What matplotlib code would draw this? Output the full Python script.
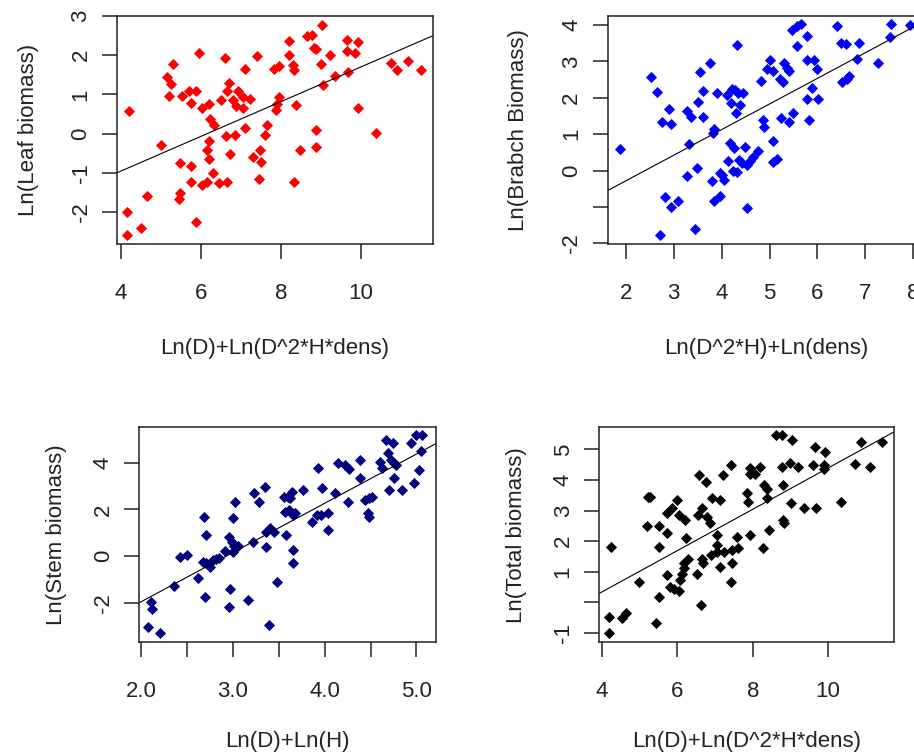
import matplotlib
matplotlib.use("Agg")
import matplotlib.pyplot as plt
import numpy as np

plt.rcParams["font.family"] = ["Liberation Sans", "DejaVu Sans"]
plt.rcParams["font.size"] = 16

# Leaf biomass vs Ln(D)+Ln(D^2*H*dens)
leaf_x = [9.03, 8.21, 8.65, 8.77, 8.83, 8.87, 9.65, 9.93, 9.65, 9.84, 9.22, 8.20,
          9.00, 8.30, 8.33, 7.83, 7.94, 7.40, 7.11, 6.60, 5.96, 5.31, 5.16, 5.25,
          5.21, 5.52, 5.69, 5.88, 5.75, 6.03, 6.19, 6.50, 6.70, 6.65, 6.92, 6.81,
          6.88, 7.05, 7.23, 7.06, 7.94, 7.90, 7.87, 8.37, 9.05, 9.35, 9.67, 10.76,
          10.89, 11.18, 11.49, 9.93, 10.38, 8.87, 8.87, 8.47, 8.32, 7.66, 7.61, 7.48,
          7.29, 7.50, 7.44, 7.11, 6.86, 6.63, 6.73, 6.23, 6.33, 6.19, 6.16, 6.19,
          6.30, 6.15, 6.02, 6.45, 6.65, 5.75, 5.75, 5.48, 4.99, 4.20, 4.64, 5.48,
          5.44, 4.14, 5.88, 4.50, 4.14]
leaf_y = [2.78, 2.37, 2.48, 2.51, 2.19, 2.15, 2.39, 2.33, 2.10, 2.05, 2.01, 2.01,
          1.78, 1.76, 1.61, 1.65, 1.72, 1.97, 1.64, 1.92, 2.06, 1.78, 1.44, 1.27,
          0.96, 0.97, 1.08, 1.08, 0.79, 0.66, 0.75, 0.85, 1.30, 1.08, 1.08, 0.85,
          0.69, 0.65, 0.89, 0.92, 0.92, 0.76, 0.59, 0.74, 1.24, 1.48, 1.57, 1.80,
          1.61, 1.84, 1.61, 0.66, 0.02, 0.08, -0.34, -0.42, -1.25, 0.21, -0.03, -0.41,
          -0.59, -0.72, -1.16, 0.13, -0.03, -0.06, -0.53, 0.36, 0.21, -0.19, -0.42, -0.66,
          -1.02, -1.23, -1.31, -1.27, -1.23, -1.23, -0.82, -0.75, -0.29, 0.57, -1.59, -1.53,
          -1.68, -2.00, -2.27, -2.42, -2.58]
leaf_fit = (-2.73, 0.443)

# Branch biomass vs Ln(D^2*H)+Ln(dens)
branch_x = [1.88, 2.53, 2.65, 2.75, 2.89, 2.95, 3.27, 3.36, 3.50, 3.54, 3.61, 3.62,
            3.75, 3.85, 3.90, 3.83, 3.31, 3.27, 3.48, 3.79, 4.00, 3.97, 4.05, 3.85,
            3.97, 2.82, 2.95, 3.08, 2.72, 3.45, 4.54, 4.32, 4.11, 4.21, 4.27, 4.35,
            4.45, 4.20, 4.39, 4.29, 4.13, 4.18, 4.25, 4.49, 4.23, 4.32, 4.36, 4.42,
            4.52, 4.59, 4.65, 4.75, 4.82, 4.87, 4.89, 5.00, 4.94, 5.08, 5.07, 5.08,
            5.16, 5.22, 5.28, 5.23, 5.30, 5.37, 5.41, 5.41, 5.50, 5.48, 5.58, 5.66,
            5.57, 5.79, 5.78, 5.92, 6.00, 5.88, 5.78, 5.83, 6.01, 6.42, 6.49, 6.60,
            6.87, 6.51, 6.61, 6.66, 6.82, 7.27, 7.51, 7.53, 7.93]
branch_y = [0.59, 2.56, 2.17, 1.34, 1.68, 1.28, 1.64, 1.48, 1.89, 2.72, 2.20, 1.48,
            2.96, 1.13, 2.12, 1.04, 0.72, -0.16, 0.08, -0.30, -0.12, -0.07, -0.26, -0.85,
            -0.70, -0.74, -0.99, -0.85, -1.77, -1.61, -1.04, 3.44, 2.08, 2.24, 2.21, 2.12,
            2.12, 1.85, 1.80, 1.57, 0.27, 0.77, 0.63, 0.64, -0.01, -0.03, 0.29, 0.22,
            0.16, 0.27, 0.37, 0.55, 2.46, 1.39, 1.21, 3.04, 2.78, 2.74, 0.80, 0.23,
            0.31, 2.53, 2.44, 1.45, 2.96, 2.81, 2.74, 1.34, 1.57, 3.86, 3.97, 4.03,
            3.43, 3.70, 3.04, 3.04, 2.79, 2.26, 1.97, 1.39, 1.97, 3.97, 3.52, 3.49,
            3.52, 2.44, 2.53, 2.60, 3.08, 2.97, 3.66, 4.03, 4.00]
branch_fit = (-1.69, 0.704)

# Stem biomass vs Ln(D)+Ln(H)
stem_x = [2.11, 2.12, 2.08, 2.21, 2.36, 2.42, 2.50, 2.62, 2.70, 2.67, 2.71, 2.75,
          2.78, 2.82, 2.85, 2.91, 2.69, 2.71, 2.96, 2.99, 3.01, 3.00, 3.06, 3.00,
          3.02, 2.97, 2.96, 3.16, 3.22, 3.23, 3.28, 3.35, 3.36, 3.36, 3.40, 3.45,
          3.48, 3.39, 3.58, 3.65, 3.66, 3.56, 3.60, 3.64, 3.62, 3.57, 3.61, 3.66,
          3.68, 3.76, 3.86, 3.93, 3.92, 3.97, 3.96, 4.04, 4.04, 4.11, 4.15, 4.22,
          4.26, 4.25, 4.38, 4.38, 4.44, 4.48, 4.52, 4.47, 4.48, 4.60, 4.62, 4.67,
          4.74, 4.69, 4.72, 4.76, 4.78, 4.76, 4.70, 4.84, 4.94, 4.97, 5.03, 4.99,
          5.06, 5.05]
stem_y = [-1.96, -2.29, -3.06, -3.31, -1.27, -0.03, 0.04, -0.96, -1.74, -0.24, -0.31, -0.46,
          -0.17, -0.14, -0.10, 0.21, 1.69, 0.90, 0.83, 0.61, 0.43, 0.19, 0.43, 1.61,
          2.33, -1.43, -2.17, -1.89, 0.61, 2.69, 2.33, 2.97, 1.04, 0.40, 1.19, 1.04,
          -1.10, -2.96, 0.90, 0.26, -0.31, 2.54, 2.54, 2.76, 2.47, 1.90, 1.97, 1.76,
          1.83, 2.83, 1.47, 3.76, 1.76, 2.90, 1.76, 1.83, 1.11, 2.69, 3.97, 3.90,
          3.71, 2.33, 4.11, 3.33, 2.40, 2.47, 2.54, 1.83, 1.69, 4.04, 3.76, 4.97,
          4.83, 4.40, 4.11, 3.97, 3.90, 3.33, 2.83, 2.83, 4.83, 3.11, 3.69, 5.19,
          5.19, 4.51]
stem_fit = (-6.18, 2.11)

# Total biomass vs Ln(D)+Ln(D^2*H*dens)
total_x = [4.23, 4.19, 4.19, 4.52, 4.64, 4.99, 5.43, 5.51, 5.23, 5.27, 5.19, 5.52,
           5.52, 5.73, 5.73, 5.85, 5.98, 6.03, 6.20, 6.23, 5.73, 5.81, 5.92, 6.04,
           6.07, 6.12, 6.18, 6.18, 6.29, 6.51, 6.54, 6.58, 6.65, 6.76, 6.78, 6.87,
           6.65, 6.69, 6.62, 6.91, 6.88, 7.04, 7.04, 7.06, 7.12, 7.13, 7.20, 7.24,
           7.44, 7.44, 7.42, 7.62, 7.59, 7.42, 7.84, 7.88, 7.93, 7.93, 7.93, 8.06,
           8.19, 8.28, 8.31, 8.37, 8.39, 8.44, 8.62, 8.77, 8.77, 8.81, 8.81, 8.83,
           8.99, 9.05, 9.01, 9.19, 9.36, 9.61, 9.65, 9.92, 9.67, 9.88, 9.90, 10.35,
           10.72, 10.88, 11.12, 11.42]
total_y = [1.82, -0.47, -1.02, -0.50, -0.34, 0.65, -0.69, 0.16, 3.45, 3.45, 2.51, 2.51,
           1.82, 2.25, 2.91, 3.09, 3.34, 2.87, 2.69, 2.09, 0.89, 0.51, 0.45, 0.38,
           0.73, 0.94, 1.27, 1.11, 1.40, 0.94, 2.87, 4.16, 3.07, 3.94, 2.80, 2.58,
           1.43, 1.27, -0.09, 3.40, 1.54, 1.65, 1.87, 2.20, 1.16, 3.34, 4.16, 1.65,
           1.71, 1.27, 0.67, 1.76, 2.14, 4.49, 3.56, 3.29, 2.20, 4.38, 4.21, 4.21,
           4.43, 1.76, 3.83, 3.72, 3.40, 2.36, 5.47, 5.47, 4.43, 3.83, 2.69, 2.60,
           4.54, 5.31, 3.26, 4.43, 3.07, 4.49, 5.07, 4.92, 3.07, 4.49, 4.35, 3.29,
           4.51, 5.25, 4.43, 5.25]
total_fit = (-2.36, 0.675)

panels = [
    dict(x=leaf_x, y=leaf_y, fit=leaf_fit, color="#ff0000",
         xlabel="Ln(D)+Ln(D^2*H*dens)", ylabel="Ln(Leaf biomass)",
         pos=[0.1280, 0.6764, 0.3457, 0.3024], xlim=(3.9, 11.8), ylim=(-2.82, 2.98),
         xticks=[4, 6, 8, 10], xtl=["4", "6", "8", "10"],
         yticks=[-2, -1, 0, 1, 2, 3], ytl=["-2", "-1", "0", "1", "2", "3"],
         xpad=25, ypad=23),
    dict(x=branch_x, y=branch_y, fit=branch_fit, color="#0000ff",
         xlabel="Ln(D^2*H)+Ln(dens)", ylabel="Ln(Brabch Biomass)",
         pos=[0.6649, 0.6764, 0.3472, 0.3024], xlim=(1.62, 8.25), ylim=(-2.02, 4.25),
         xticks=[2, 3, 4, 5, 6, 7, 8], xtl=["2", "3", "4", "5", "6", "7", "8"],
         yticks=[-2, -1, 0, 1, 2, 3, 4], ytl=["-2", "", "0", "1", "2", "3", "4"],
         xpad=25, ypad=23),
    dict(x=stem_x, y=stem_y, fit=stem_fit, color="#000080",
         xlabel="Ln(D)+Ln(H)", ylabel="Ln(Stem biomass)",
         pos=[0.1524, 0.1481, 0.3243, 0.2859], xlim=(1.98, 5.21), ylim=(-3.70, 5.54),
         xticks=[2.0, 2.5, 3.0, 3.5, 4.0, 4.5, 5.0],
         xtl=["2.0", "", "3.0", "", "4.0", "", "5.0"],
         yticks=[-2, 0, 2, 4], ytl=["-2", "0", "2", "4"],
         xpad=21, ypad=18.5),
    dict(x=total_x, y=total_y, fit=total_fit, color="#000000",
         xlabel="Ln(D)+Ln(D^2*H*dens)", ylabel="Ln(Total biomass)",
         pos=[0.6554, 0.1481, 0.3231, 0.2851], xlim=(3.92, 11.76), ylim=(-1.31, 5.72),
         xticks=[4, 6, 8, 10], xtl=["4", "6", "8", "10"],
         yticks=[-1, 0, 1, 2, 3, 4, 5], ytl=["-1", "", "1", "2", "3", "4", "5"],
         xpad=21, ypad=18.5),
]

fig = plt.figure(figsize=(9.14, 7.54), dpi=100)

for p in panels:
    ax = fig.add_axes(p["pos"])
    ax.plot(p["x"], p["y"], linestyle="none", marker="D", markersize=5.4,
            color=p["color"], markeredgewidth=0.6, markeredgecolor=p["color"])
    b, m = p["fit"]
    ax.axline((0, b), slope=m, color="black", linewidth=0.8)
    ax.set_xlim(p["xlim"])
    ax.set_ylim(p["ylim"])
    ax.set_xticks(p["xticks"])
    ax.set_xticklabels(p["xtl"])
    ax.set_yticks(p["yticks"])
    ax.set_yticklabels(p["ytl"], rotation=90, va="center")
    ax.tick_params(axis="both", direction="out", length=10.8, width=1.1, color="#222222",
                   labelcolor="#222222")
    ax.tick_params(axis="x", pad=17)
    ax.tick_params(axis="y", pad=7.5)
    for s in ax.spines.values():
        s.set_linewidth(1.1)
        s.set_color("#222222")
    ax.set_xlabel(p["xlabel"], color="#222222", labelpad=p["xpad"])
    ax.set_ylabel(p["ylabel"], color="#222222", labelpad=p["ypad"])

fig.savefig("out.png", dpi=100)
